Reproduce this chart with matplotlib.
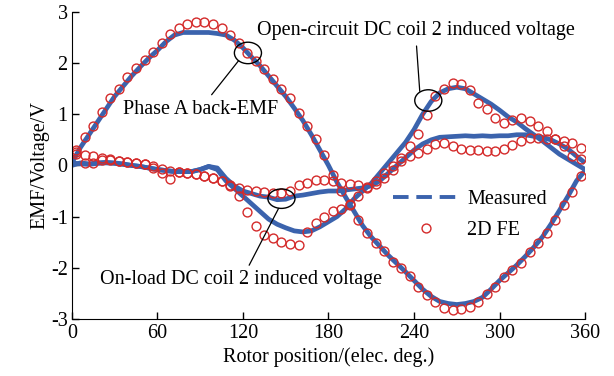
import numpy as np
import matplotlib
matplotlib.use("Agg")
import matplotlib.pyplot as plt
from matplotlib.lines import Line2D
from matplotlib.patches import Ellipse

plt.rcParams["font.family"] = ["Liberation Serif", "DejaVu Serif"]
plt.rcParams["axes.unicode_minus"] = False

# rotor position grids (elec. deg.)
meas_x = np.arange(0, 361, 6)
fe_x = np.arange(3, 360, 6)

# measured curves
phase_a_meas = [0.05, 0.35, 0.6, 0.85, 1.1, 1.35, 1.55, 1.75, 1.93, 2.1, 2.25, 2.42, 2.55, 2.6, 2.6, 2.6,
                2.6, 2.58, 2.55, 2.45, 2.3, 2.12, 1.95, 1.75, 1.55, 1.35, 1.12, 0.88, 0.6, 0.3, 0.0,
                -0.33, -0.62, -0.9, -1.18, -1.4, -1.58, -1.76, -1.92, -2.08, -2.25, -2.42, -2.56, -2.66,
                -2.7, -2.72, -2.7, -2.66, -2.58, -2.42, -2.25, -2.1, -1.95, -1.78, -1.6, -1.4, -1.15,
                -0.88, -0.6, -0.3, -0.1]
oc_meas = [0.05, 0.03, 0.02, 0.04, 0.05, 0.04, 0.02, 0.0, -0.02, -0.05, -0.08, -0.1, -0.12, -0.12,
           -0.12, -0.08, -0.02, -0.08, -0.3, -0.45, -0.6, -0.75, -0.9, -1.05, -1.15, -1.22, -1.28,
           -1.3, -1.28, -1.2, -1.1, -1.0, -0.85, -0.65, -0.5, -0.35, -0.15, 0.05, 0.25, 0.45, 0.7,
           1.0, 1.25, 1.42, 1.5, 1.53, 1.5, 1.4, 1.3, 1.2, 1.08, 0.95, 0.85, 0.72, 0.6, 0.48, 0.35,
           0.22, 0.12, 0.02, -0.08]
ol_meas = [0.0, 0.05, 0.03, 0.05, 0.06, 0.05, 0.03, 0.0, -0.02, -0.05, -0.08, -0.1, -0.12, -0.12,
           -0.12, -0.08, -0.02, -0.05, -0.25, -0.4, -0.5, -0.55, -0.6, -0.62, -0.67, -0.66, -0.6,
           -0.58, -0.55, -0.52, -0.5, -0.5, -0.48, -0.46, -0.44, -0.4, -0.3, -0.15, 0.0, 0.15, 0.3,
           0.42, 0.5, 0.55, 0.56, 0.57, 0.58, 0.57, 0.58, 0.57, 0.58, 0.58, 0.6, 0.6, 0.57, 0.55,
           0.5, 0.42, 0.32, 0.18, 0.05]

# 2D FE results
phase_a_fe = [0.3, 0.55, 0.78, 1.04, 1.31, 1.5, 1.72, 1.9, 2.06, 2.22, 2.39, 2.57, 2.68, 2.76, 2.81,
              2.81, 2.76, 2.68, 2.55, 2.39, 2.2, 2.04, 1.88, 1.69, 1.49, 1.31, 1.02, 0.77, 0.52, 0.2,
              -0.18, -0.5, -0.78, -1.06, -1.32, -1.52, -1.68, -1.88, -2.0, -2.17, -2.37, -2.53,
              -2.68, -2.78, -2.82, -2.81, -2.76, -2.68, -2.51, -2.37, -2.18, -2.04, -1.9, -1.7,
              -1.52, -1.32, -1.06, -0.78, -0.52, -0.2]
oc_fe = [0.26, 0.2, 0.18, 0.15, 0.12, 0.09, 0.07, 0.05, 0.03, -0.02, -0.07, -0.1, -0.12, -0.14,
         -0.16, -0.2, -0.24, -0.31, -0.4, -0.6, -0.92, -1.18, -1.36, -1.42, -1.5, -1.53, -1.55,
         -1.31, -1.12, -1.0, -0.9, -0.86, -0.76, -0.6, -0.45, -0.3, -0.15, -0.02, 0.15, 0.38,
         0.62, 0.98, 1.35, 1.49, 1.62, 1.59, 1.47, 1.23, 1.1, 0.92, 0.83, 0.88, 0.93, 0.86, 0.78,
         0.67, 0.51, 0.38, 0.18, 0.12]
ol_fe = [0.22, 0.05, 0.05, 0.1, 0.1, 0.08, 0.06, 0.04, 0.02, -0.05, -0.14, -0.26, -0.13, -0.15,
         -0.17, -0.21, -0.24, -0.31, -0.38, -0.45, -0.48, -0.5, -0.52, -0.54, -0.53, -0.5, -0.39,
         -0.34, -0.29, -0.29, -0.3, -0.34, -0.37, -0.38, -0.42, -0.36, -0.25, -0.08, 0.08, 0.18,
         0.24, 0.32, 0.41, 0.43, 0.38, 0.33, 0.31, 0.3, 0.28, 0.28, 0.33, 0.39, 0.48, 0.53, 0.53,
         0.51, 0.51, 0.48, 0.43, 0.35]

BLUE = "#3b63ad"
RED = "#d42a2a"
FS = 14.5

fig = plt.figure(figsize=(6.14, 3.76), dpi=100)
ax = fig.add_axes([0.117, 0.152, 0.836, 0.816])

for y in (phase_a_meas, oc_meas, ol_meas):
    ax.plot(meas_x, y, color=BLUE, lw=3.4, solid_capstyle="butt")
for y in (phase_a_fe, oc_fe, ol_fe):
    ax.plot(fe_x, y, ls="none", marker="o", ms=6.4, mfc="none", mec=RED, mew=1.0)

ax.set_xlim(0, 360)
ax.set_ylim(-3, 3)
ax.set_xticks(range(0, 361, 60))
ax.set_yticks(range(-3, 4))
ax.tick_params(direction="in", length=5, labelsize=FS, width=1)
ax.tick_params(axis="x", pad=4)
ax.tick_params(axis="y", pad=3)
for s in ("top", "right"):
    ax.spines[s].set_visible(False)
ax.set_xlabel("Rotor position/(elec. deg.)", fontsize=FS, labelpad=3)
ax.set_ylabel("EMF/Voltage/V", fontsize=FS, labelpad=1)

# annotation circles and leaders
for (cx, cy, w, h) in [(123.5, 2.2, 19, 0.42), (250, 1.27, 19, 0.42), (147, -0.65, 19, 0.38)]:
    ax.add_patch(Ellipse((cx, cy), w, h, fill=False, color="black", lw=1.0, zorder=5))
kw = dict(fontsize=FS, ha="center", va="center",
          arrowprops=dict(arrowstyle="-", lw=0.9, color="black", shrinkA=2, shrinkB=0))
ax.annotate("Phase A back-EMF", xy=(117, 2.05), xytext=(90, 1.1), **kw)
ax.annotate("Open-circuit DC coil 2 induced voltage", xy=(244, 1.45), xytext=(241, 2.63), **kw)
ax.annotate("On-load DC coil 2 induced voltage", xy=(145, -0.84), xytext=(119, -2.24), **kw)

handles = [Line2D([], [], color=BLUE, lw=2.8, ls=(0, (4, 2))),
           Line2D([], [], ls="none", marker="o", ms=6.4, mfc="none", mec=RED, mew=1.0)]
ax.legend(handles, ["Measured", "2D FE"], loc="upper left", bbox_to_anchor=(0.59, 0.48),
          frameon=False, fontsize=FS, handlelength=3.3, handletextpad=0.4, labelspacing=0.6)

fig.savefig("out.png", dpi=100)
